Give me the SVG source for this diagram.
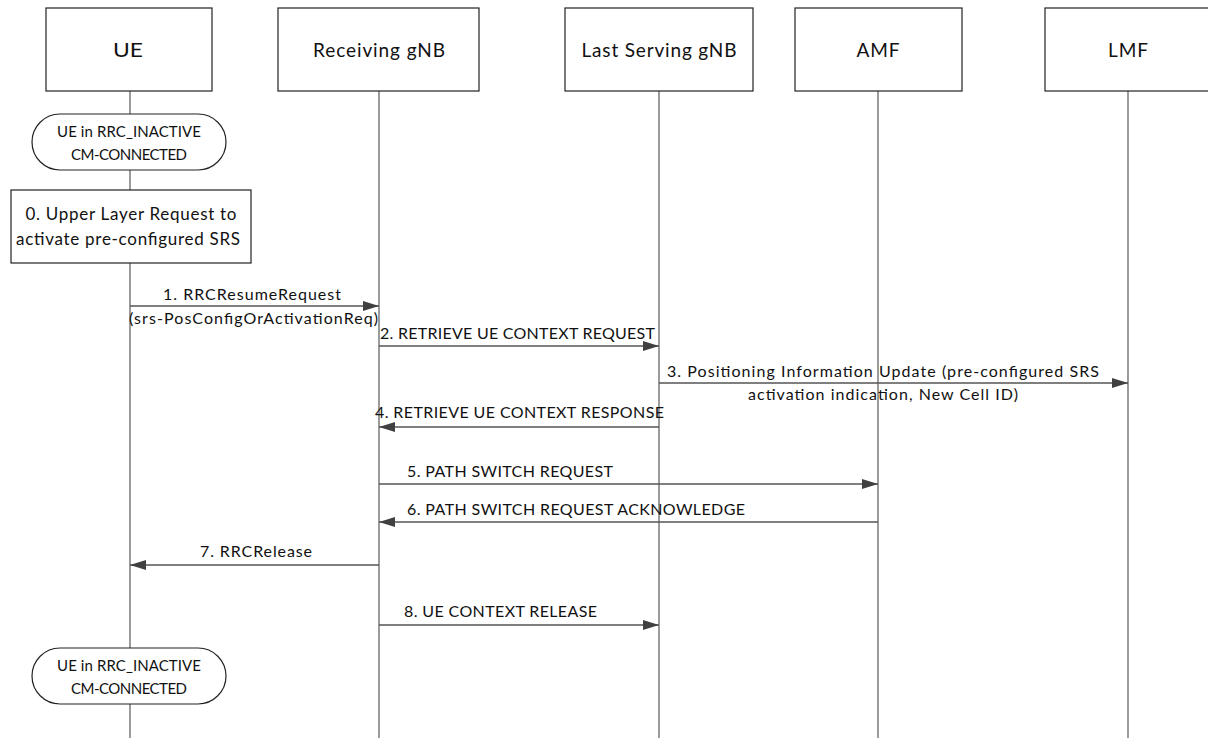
<svg xmlns="http://www.w3.org/2000/svg" width="1208" height="738" viewBox="0 0 1208 738">
<style>
.box{fill:#fff;stroke:#222;stroke-width:1.2}
.life{stroke:#666;stroke-width:1.3;fill:none}
.msg{stroke:#555;stroke-width:1.3;fill:none}
.t{font-family:Lato,"Liberation Sans",sans-serif;fill:#111;font-size:16px}
.h{font-size:19px}
.b{font-size:17px}
.s{font-size:15px}
.c{text-anchor:middle}
</style>
<defs>
<marker id="ah" viewBox="0 0 16 10" refX="16" refY="5" markerWidth="16" markerHeight="10" markerUnits="userSpaceOnUse" orient="auto">
<path d="M0,0 L16,5 L0,10 z" fill="#404040"/>
</marker>
</defs>
<rect width="1208" height="738" fill="#fff"/>
<g id="lifelines">
<line class="life" x1="130" y1="91" x2="130" y2="738"/>
<line class="life" x1="379" y1="91" x2="379" y2="738"/>
<line class="life" x1="659" y1="91" x2="659" y2="738"/>
<line class="life" x1="878" y1="91" x2="878" y2="738"/>
<line class="life" x1="1128" y1="91" x2="1128" y2="738"/>
</g>
<g id="ue"><rect class="box" x="46" y="8" width="166" height="83"/><text class="t h c" x="128" y="57" textLength="30" lengthAdjust="spacingAndGlyphs">UE</text></g>
<g id="rgnb"><rect class="box" x="278" y="8" width="201" height="83"/><text class="t h c" x="379" y="57" textLength="132">Receiving gNB</text></g>
<g id="lsgnb"><rect class="box" x="565" y="8" width="188" height="83"/><text class="t h c" x="659" y="57" textLength="155">Last Serving gNB</text></g>
<g id="amf"><rect class="box" x="795" y="8" width="167" height="83"/><text class="t h c" x="878" y="57" textLength="43">AMF</text></g>
<g id="lmf"><rect class="box" x="1045" y="8" width="166" height="83"/><text class="t h c" x="1128" y="57" textLength="40">LMF</text></g>
<g id="state1"><rect class="box" x="32" y="114" width="194" height="56" rx="28" ry="28"/><text class="t s c" x="129" y="137" textLength="144">UE in RRC_INACTIVE</text><text class="t s c" x="129" y="160" textLength="116">CM-CONNECTED</text></g>
<g id="step0"><rect class="box" x="11" y="190" width="240" height="73"/><text class="t b c" x="131" y="220" textLength="211">0. Upper Layer Request to</text><text class="t b c" x="128" y="245" textLength="224">activate pre-configured SRS</text></g>
<g id="state2"><rect class="box" x="32" y="648" width="194" height="56" rx="28" ry="28"/><text class="t s c" x="129" y="671" textLength="144">UE in RRC_INACTIVE</text><text class="t s c" x="129" y="694" textLength="116">CM-CONNECTED</text></g>
<g id="connectors">
<line class="msg" x1="130" y1="306" x2="379" y2="306" marker-end="url(#ah)"/>
<text class="t" x="163" y="300" textLength="178">1. RRCResumeRequest</text>
<text class="t" x="129" y="324" textLength="249">(srs-PosConfigOrActivationReq)</text>
<line class="msg" x1="379" y1="346" x2="659" y2="346" marker-end="url(#ah)"/>
<text class="t" x="380" y="339" textLength="275">2. RETRIEVE UE CONTEXT REQUEST</text>
<line class="msg" x1="659" y1="383" x2="1128" y2="383" marker-end="url(#ah)"/>
<text class="t" x="667" y="377" textLength="432">3. Positioning Information Update (pre-configured SRS</text>
<text class="t" x="748" y="400" textLength="270">activation indication, New Cell ID)</text>
<line class="msg" x1="659" y1="427" x2="379" y2="427" marker-end="url(#ah)"/>
<text class="t" x="375" y="418" textLength="289">4. RETRIEVE UE CONTEXT RESPONSE</text>
<line class="msg" x1="379" y1="484" x2="878" y2="484" marker-end="url(#ah)"/>
<text class="t" x="407" y="477" textLength="206">5. PATH SWITCH REQUEST</text>
<line class="msg" x1="878" y1="522" x2="379" y2="522" marker-end="url(#ah)"/>
<text class="t" x="407" y="515" textLength="338">6. PATH SWITCH REQUEST ACKNOWLEDGE</text>
<line class="msg" x1="379" y1="565" x2="130" y2="565" marker-end="url(#ah)"/>
<text class="t" x="200" y="557" textLength="112">7. RRCRelease</text>
<line class="msg" x1="379" y1="625" x2="659" y2="625" marker-end="url(#ah)"/>
<text class="t" x="404" y="617" textLength="193">8. UE CONTEXT RELEASE</text>
</g>
</svg>
